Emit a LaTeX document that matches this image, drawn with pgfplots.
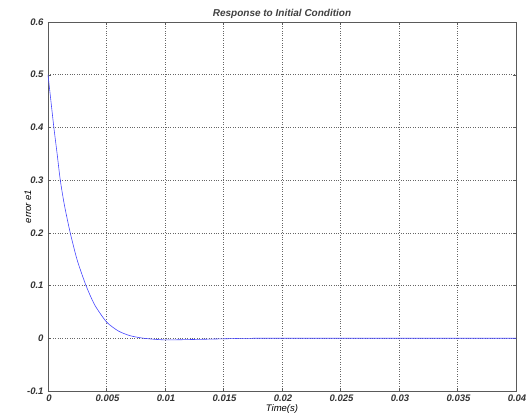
\documentclass[border=0pt]{standalone}
\usepackage{pgfplots}
\pgfplotsset{compat=1.18}
\usepackage{fontspec}
\setmainfont{Liberation Sans}
\definecolor{curve}{RGB}{70,70,255}
\definecolor{frame}{RGB}{90,90,90}
\begin{document}
\begin{tikzpicture}
\begin{axis}[
  scale only axis,
  width=468pt, height=369pt,
  xmin=0, xmax=0.04, ymin=-0.1, ymax=0.6,
  xtick={0,0.005,0.01,0.015,0.02,0.025,0.03,0.035,0.04},
  xticklabels={0,0.005,0.01,0.015,0.02,0.025,0.03,0.035,0.04},
  ytick={-0.1,0,0.1,0.2,0.3,0.4,0.5,0.6},
  yticklabels={-0.1,0,0.1,0.2,0.3,0.4,0.5,0.6},
  scaled x ticks=false,
  tick label style={font=\fontsize{9.5}{10}\selectfont\bfseries\itshape, text=black!80},
  xticklabel style={xshift=1pt},
  yticklabel style={xshift=-1pt},
  grid=major,
  major grid style={dotted, black!60, line width=0.6pt},
  axis line style={frame, line width=0.8pt},
  tick style={frame},
  major tick length=3pt,
  tick align=inside,
  title={Response to Initial Condition},
  title style={font=\fontsize{10}{11}\selectfont\bfseries\itshape, text=black!75, yshift=-6pt},
  xlabel={Time(s)},
  xlabel style={font=\fontsize{9.5}{10}\selectfont\itshape, yshift=4pt},
  ylabel={error e1},
  ylabel style={font=\fontsize{9.5}{10}\selectfont\itshape, yshift=-11pt},
]
\addplot[curve, line width=0.6pt, smooth, tension=0.4] coordinates {
(0,0.5) (0.00025,0.45) (0.0005,0.4) (0.00078,0.35) (0.00105,0.3)
(0.0014,0.253) (0.0019,0.2) (0.0025,0.148) (0.00325,0.1) (0.004,0.063)
(0.005,0.031) (0.006,0.014) (0.007,0.005) (0.0082,0.0) (0.0100,-0.003)
(0.0130,-0.002) (0.0160,-0.0005) (0.0180,0) (0.04,0)
};
\end{axis}
\pgfresetboundingbox
\useasboundingbox (-48pt,-25pt) rectangle (481pt,391pt);
\end{tikzpicture}
\end{document}
